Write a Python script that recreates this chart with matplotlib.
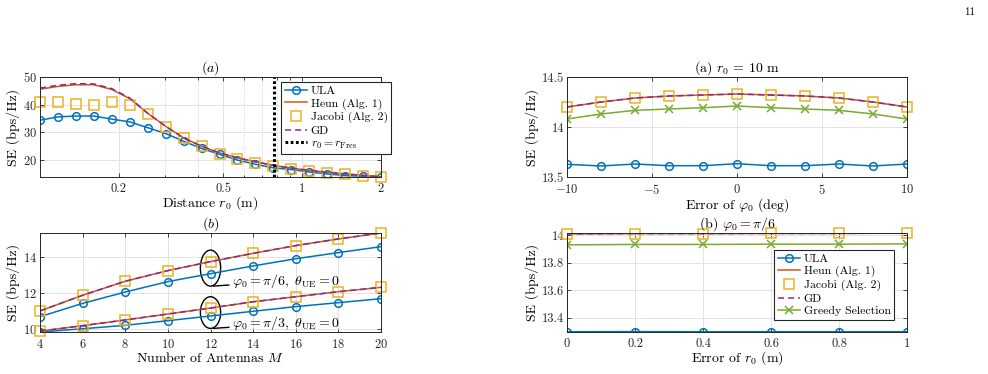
import matplotlib
matplotlib.use("Agg")
import matplotlib.pyplot as plt
from matplotlib.patches import Ellipse
from matplotlib.ticker import FixedLocator, FixedFormatter, NullFormatter

plt.rcParams["font.family"] = "cmr10"
plt.rcParams["mathtext.fontset"] = "cm"
plt.rcParams["axes.formatter.use_mathtext"] = True
plt.rcParams["axes.unicode_minus"] = True

# colours (MATLAB default order)
C_ULA = "#0072BD"
C_HEUN = "#D95319"
C_JAC = "#EDB120"
C_GD = "#7E2F8E"
C_GRD = "#77AC30"
AX_COL = "#262626"
GRID_COL = "#e3e3e3"

# ---- (a) SE vs distance ----
dist_m = [0.1, 0.1171, 0.1371, 0.1605, 0.1879, 0.2200, 0.2576, 0.3016, 0.3531, 0.4134,
          0.4841, 0.5667, 0.6635, 0.7769, 0.9096, 1.065, 1.247, 1.460, 1.709, 2.0]
dist_ula = [34.4, 35.6, 35.9, 35.9, 34.8, 33.8, 31.7, 29.6, 26.8, 24.2,
            22.1, 20.0, 18.5, 17.2, 16.6, 15.7, 15.0, 14.4, 14.2, 13.9]
dist_heun = [45.6, 46.6, 47.2, 47.2, 45.5, 42.2, 36.9, 32.2, 28.0, 25.0,
             22.6, 20.8, 19.4, 18.1, 17.1, 16.3, 15.6, 15.0, 14.5, 14.0]
dist_jac = [41.0, 40.8, 40.4, 40.0, 40.8, 40.0, 36.8, 32.0, 27.8, 25.0,
            22.3, 20.5, 19.0, 17.9, 16.9, 16.2, 15.5, 14.9, 14.2, 13.9]
dist_gd = [46.0, 47.0, 47.6, 47.5, 45.8, 42.4, 36.9, 32.2, 28.0, 25.0,
           22.6, 20.8, 19.4, 18.1, 17.1, 16.3, 15.6, 15.0, 14.5, 14.0]
r_fres = 0.778

# ---- (b) SE vs number of antennas ----
antennas = [4, 6, 8, 10, 12, 14, 16, 18, 20]
ant_ula_pi6 = [10.70, 11.44, 12.07, 12.65, 13.09, 13.52, 13.92, 14.26, 14.59]
ant_alg_pi6 = [11.02, 11.89, 12.67, 13.26, 13.76, 14.22, 14.65, 15.02, 15.35]
ant_ula_pi3 = [9.85, 10.03, 10.22, 10.48, 10.74, 11.00, 11.26, 11.48, 11.70]
ant_alg_pi3 = [9.90, 10.20, 10.52, 10.85, 11.18, 11.53, 11.81, 12.09, 12.33]

# ---- right (a) error of phi0 ----
phi_err = [-10, -8, -6, -4, -2, 0, 2, 4, 6, 8, 10]
phi_ula = [13.627, 13.610, 13.630, 13.613, 13.613, 13.633, 13.613, 13.613, 13.630, 13.610, 13.630]
phi_alg = [14.20, 14.25, 14.29, 14.31, 14.32, 14.33, 14.32, 14.31, 14.29, 14.25, 14.20]
phi_greedy = [14.08, 14.13, 14.167, 14.18, 14.193, 14.21, 14.193, 14.18, 14.167, 14.13, 14.08]

# ---- right (b) error of r0 ----
r_err = [0, 0.2, 0.4, 0.6, 0.8, 1.0]
r_ula = [13.300, 13.301, 13.300, 13.300, 13.300, 13.300]
r_alg = [14.010, 14.012, 14.012, 14.013, 14.013, 14.015]
r_greedy = [13.930, 13.933, 13.933, 13.935, 13.935, 13.937]

FS_TICK = 9
FS_LAB = 10
FS_LEG = 8.5
LW = 1.1
DASH = (0, (4, 2.6))


def style_axes(ax):
    for s in ax.spines.values():
        s.set_color(AX_COL)
        s.set_linewidth(0.7)
    ax.tick_params(which="both", direction="in", top=True, right=True,
                   colors=AX_COL, labelsize=FS_TICK, length=3, width=0.6)
    ax.tick_params(axis="x", pad=4)
    ax.tick_params(axis="y", pad=2)
    ax.tick_params(which="minor", length=1.8)
    ax.grid(True, which="major", color=GRID_COL, lw=0.7)
    ax.set_axisbelow(True)


def draw_set(ax, x, ula, heun, jac, gd, greedy=None):
    ax.plot(x, ula, "-o", color=C_ULA, lw=LW, ms=5.5, mfc="none", mew=1.1, label="ULA")
    ax.plot(x, heun, "-", color=C_HEUN, lw=LW, label="Heun (Alg. 1)")
    ax.plot(x, jac, "s", color=C_JAC, ms=6.5, mfc="none", mew=1.1, label="Jacobi (Alg. 2)",
            clip_on=False)
    ax.plot(x, gd, color=C_GD, lw=LW, linestyle=DASH, label="GD")
    if greedy is not None:
        ax.plot(x, greedy, "-x", color=C_GRD, lw=LW, ms=5.5, mew=1.1, label="Greedy Selection")


def add_legend(ax, anchor):
    leg = ax.legend(loc="upper right", bbox_to_anchor=anchor, fontsize=FS_LEG,
                    fancybox=False, edgecolor=AX_COL, framealpha=1, borderpad=0.3,
                    handlelength=1.9, handletextpad=0.3, labelspacing=0.2, borderaxespad=0)
    leg.get_frame().set_linewidth(0.8)


fig = plt.figure(figsize=(9.88, 3.74), dpi=100)
W, H = 988, 374


def px_axes(x0, y0, x1, y1):
    return fig.add_axes([x0 / W, 1 - y1 / H, (x1 - x0) / W, (y1 - y0) / H])


# top-left
ax1 = px_axes(40, 77, 381, 177)
draw_set(ax1, dist_m, dist_ula, dist_heun, dist_jac, dist_gd)
ax1.axvline(r_fres, color="black", lw=2.2, linestyle=(0, (0.9, 0.8)),
            label=r"$r_0 = r_{\rm Fres}$")
ax1.set_xscale("log")
ax1.set_xlim(0.1, 2)
ax1.set_ylim(13.9, 50)
ax1.xaxis.set_major_locator(FixedLocator([0.2, 0.5, 1, 2]))
ax1.xaxis.set_major_formatter(FixedFormatter(["0.2", "0.5", "1", "2"]))
ax1.xaxis.set_minor_locator(FixedLocator([0.3, 0.4, 0.6, 0.7, 0.8, 0.9]))
ax1.xaxis.set_minor_formatter(NullFormatter())
ax1.set_yticks([20, 30, 40, 50])
style_axes(ax1)
ax1.grid(True, which="minor", axis="x", color="#c8c8c8", lw=0.6, linestyle=":")
ax1.set_title("$(a)$", fontsize=FS_LAB, pad=3)
ax1.set_xlabel("Distance $r_0$ (m)", fontsize=FS_LAB, labelpad=0)
ax1.set_ylabel("SE (bps/Hz)", fontsize=FS_LAB, labelpad=2)
add_legend(ax1, (1.03, 0.95))

# bottom-left
ax2 = px_axes(40, 233, 381, 332)
for ula, alg in [(ant_ula_pi6, ant_alg_pi6), (ant_ula_pi3, ant_alg_pi3)]:
    draw_set(ax2, antennas, ula, alg, alg, alg)
ax2.set_xlim(4, 20)
ax2.set_ylim(9.85, 15.35)
ax2.set_xticks(antennas)
ax2.set_yticks([10, 12, 14])
style_axes(ax2)
ax2.add_patch(Ellipse((12, 13.4), 0.95, 2.0, fill=False, ec="black", lw=1.0))
ax2.add_patch(Ellipse((12, 10.93), 0.95, 1.76, fill=False, ec="black", lw=1.0))
ax2.annotate(r"$\varphi_0 = \pi/6,\ \theta_{\rm UE} = 0$", xy=(12.13, 12.4),
             xytext=(13.0, 12.68), fontsize=FS_LAB, va="center",
             arrowprops=dict(arrowstyle="-", color="black", lw=1.0, shrinkA=0, shrinkB=0))
ax2.annotate(r"$\varphi_0 = \pi/3,\ \theta_{\rm UE} = 0$", xy=(12.13, 10.05),
             xytext=(13.0, 10.33), fontsize=FS_LAB, va="center",
             arrowprops=dict(arrowstyle="-", color="black", lw=1.0, shrinkA=0, shrinkB=0))
ax2.set_title("$(b)$", fontsize=FS_LAB, pad=3)
ax2.set_xlabel("Number of Antennas $M$", fontsize=FS_LAB, labelpad=0)
ax2.set_ylabel("SE (bps/Hz)", fontsize=FS_LAB, labelpad=2)

# top-right
ax3 = px_axes(567, 77, 907, 177)
draw_set(ax3, phi_err, phi_ula, phi_alg, phi_alg, phi_alg, phi_greedy)
ax3.set_xlim(-10, 10)
ax3.set_ylim(13.5, 14.5)
ax3.set_xticks([-10, -5, 0, 5, 10])
ax3.set_yticks([13.5, 14, 14.5])
ax3.set_yticklabels(["13.5", "14", "14.5"])
style_axes(ax3)
ax3.set_title("(a) $r_0$ = 10 m", fontsize=FS_LAB, pad=3)
ax3.set_xlabel(r"Error of $\varphi_0$ (deg)", fontsize=FS_LAB, labelpad=0)
ax3.set_ylabel("SE (bps/Hz)", fontsize=FS_LAB, labelpad=2)

# bottom-right
ax4 = px_axes(567, 233, 907, 332)
draw_set(ax4, r_err, r_ula, r_alg, r_alg, r_alg, r_greedy)
ax4.set_xlim(0, 1)
ax4.set_ylim(13.298, 14.016)
ax4.set_xticks(r_err)
ax4.set_xticklabels(["0", "0.2", "0.4", "0.6", "0.8", "1"])
ax4.set_yticks([13.4, 13.6, 13.8, 14.0])
ax4.set_yticklabels(["13.4", "13.6", "13.8", "14"])
style_axes(ax4)
ax4.set_title(r"(b) $\varphi_0 = \pi/6$", fontsize=FS_LAB, pad=3)
ax4.set_xlabel("Error of $r_0$ (m)", fontsize=FS_LAB, labelpad=0)
ax4.set_ylabel("SE (bps/Hz)", fontsize=FS_LAB, labelpad=2)
add_legend(ax4, (0.962, 0.83))

fig.text(975 / W, 1 - 12 / H, "11", fontsize=8, ha="right", va="center")

fig.savefig("out.png", dpi=100)
